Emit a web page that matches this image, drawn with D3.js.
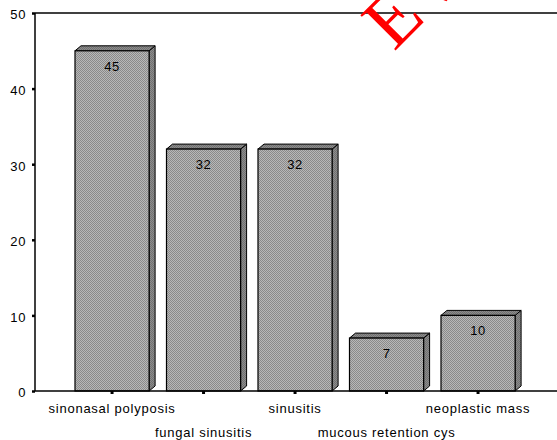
<!DOCTYPE html>
<html><head><meta charset="utf-8">
<script src="https://cdn.jsdelivr.net/npm/d3@7"></script>
<style>body{margin:0;background:#fff;} svg{display:block;}</style>
</head><body>
<svg id="c" width="557" height="440"></svg>
<script>
const categories = ["sinonasal polyposis","fungal sinusitis","sinusitis","mucous retention cys","neoplastic mass"];
const values = [45, 32, 32, 7, 10];
const yTicks = [0, 10, 20, 30, 40, 50];

(function(){
const svg = d3.select("#c");
const W = 557, H = 440;
const pLeft = 35, pTop = 13, pBottom = 391;
const dx = 6, dy = -5;

const defs = svg.append("defs");
const pat = defs.append("pattern").attr("id","hatch").attr("width",2).attr("height",2).attr("patternUnits","userSpaceOnUse");
pat.append("rect").attr("width",2).attr("height",2).attr("fill","#b8b8b8");
pat.append("rect").attr("width",1).attr("height",1).attr("fill","#8a8a8a");
pat.append("rect").attr("x",1).attr("y",1).attr("width",1).attr("height",1).attr("fill","#8a8a8a");
const pat2 = defs.append("pattern").attr("id","hatch2").attr("width",2).attr("height",2).attr("patternUnits","userSpaceOnUse");
pat2.append("rect").attr("width",2).attr("height",2).attr("fill","#8c8c8c");
pat2.append("rect").attr("width",1).attr("height",1).attr("fill","#707070");
pat2.append("rect").attr("x",1).attr("y",1).attr("width",1).attr("height",1).attr("fill","#707070");

const y = d3.scaleLinear().domain([0,50]).range([pBottom, pTop]);
const x = d3.scaleBand().domain(categories).range([66.3, 523.8]).paddingInner(0.19).paddingOuter(0.095);

svg.append("line").attr("x1",pLeft).attr("x2",W).attr("y1",pTop).attr("y2",pTop).attr("stroke","#000").attr("stroke-width",1.5);

const g = svg.append("g");
values.forEach((v,i) => {
  const c = categories[i];
  const x0 = x(c), x1 = x(c) + x.bandwidth();
  const yv = y(v), y0 = y(0);
  g.append("polygon").attr("points",[[x1,y0],[x1+dx,y0+dy],[x1+dx,yv+dy],[x1,yv]].map(p=>p.join(",")).join(" "))
    .attr("fill","url(#hatch2)").attr("stroke","#000").attr("stroke-width",1).attr("stroke-linejoin","round");
  g.append("polygon").attr("points",[[x0,yv],[x0+dx,yv+dy],[x1+dx,yv+dy],[x1,yv]].map(p=>p.join(",")).join(" "))
    .attr("fill","url(#hatch2)").attr("stroke","#000").attr("stroke-width",1).attr("stroke-linejoin","round");
  g.append("rect").attr("x",x0).attr("y",yv).attr("width",x.bandwidth()).attr("height",y0-yv)
    .attr("fill","url(#hatch)").attr("stroke","#000").attr("stroke-width",1.2);
  g.append("text").attr("x",(x0+x1)/2).attr("y",yv+20).attr("text-anchor","middle")
    .attr("font-family","Liberation Sans, Arial, sans-serif").attr("font-size",13).attr("letter-spacing","0.6px").attr("fill","#000").text(v);
});

const yAxis = d3.axisLeft(y).tickValues(yTicks).tickSize(3).tickPadding(6);
const ya = svg.append("g").attr("transform",`translate(${pLeft},0)`).call(yAxis);
ya.select(".domain").attr("stroke","#000").attr("stroke-width",1.5).attr("d",`M0,${pTop}V${pBottom}`);
ya.selectAll(".tick line").attr("stroke","#000").attr("stroke-width",2.5);
ya.selectAll(".tick text").attr("font-family","Liberation Sans, Arial, sans-serif").attr("font-size",13).attr("letter-spacing","0.6px").attr("fill","#000").attr("dy","0.45em");

const xAxis = d3.axisBottom(x).tickSize(3).tickFormat("");
const xa = svg.append("g").attr("transform",`translate(0,${pBottom})`).call(xAxis);
xa.select(".domain").attr("stroke","#000").attr("stroke-width",1.5).attr("d",`M${pLeft},0H${W}`);
xa.selectAll(".tick line").attr("stroke","#000").attr("stroke-width",3);
svg.append("g").selectAll("text").data(categories).join("text")
  .attr("x", d => x(d) + x.bandwidth()/2)
  .attr("y", (d,i) => i % 2 === 0 ? 413 : 437)
  .attr("text-anchor","middle")
  .attr("font-family","Liberation Sans, Arial, sans-serif").attr("font-size",13).attr("letter-spacing","0.75px").attr("fill","#000")
  .text(d => d);

svg.append("text").attr("transform","translate(394,52) rotate(-45)")
  .attr("font-family","Liberation Serif, Times New Roman, serif").attr("font-size",76).attr("fill","#ff0000")
  .text("EVALUATION");
})();
</script>
</body></html>
